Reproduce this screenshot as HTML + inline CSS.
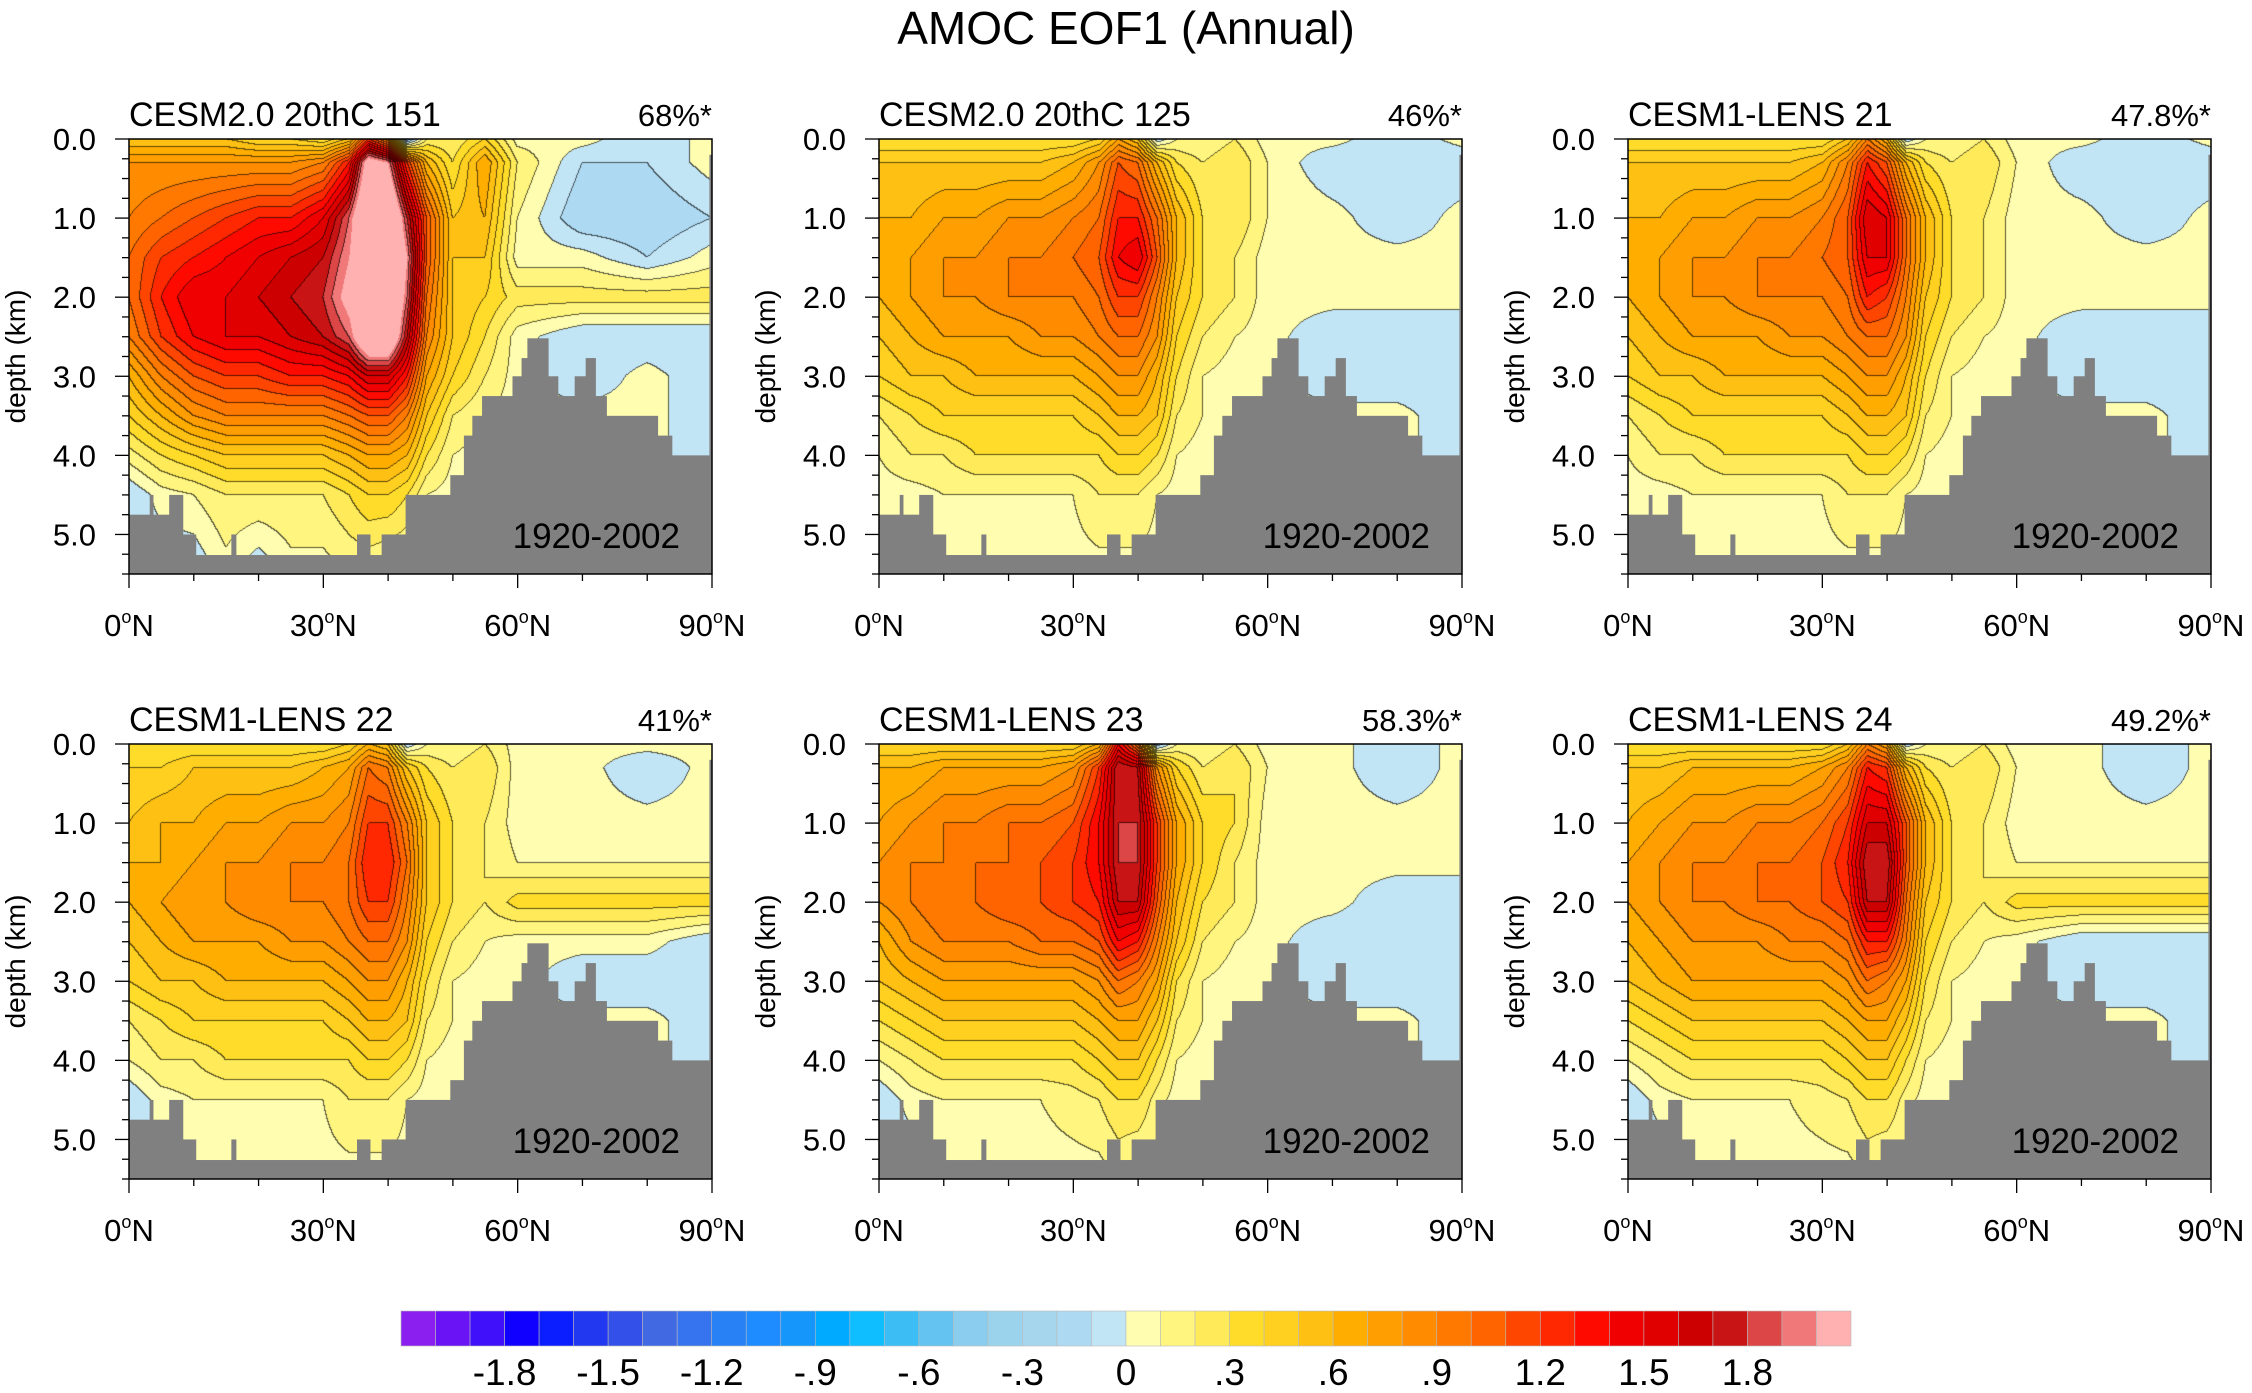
<!DOCTYPE html>
<html><head><meta charset="utf-8"><style>
html,body{margin:0;padding:0;background:#fff}
#wrap{position:relative;width:2252px;height:1393px;overflow:hidden;font-family:"Liberation Sans",sans-serif}
canvas{position:absolute}
svg{position:absolute;left:0;top:0}
</style></head><body>
<div id="wrap">
<svg id="ov" width="2252" height="1393"></svg>
</div>
<script>
const lats=[0,5,10,15,20,25,30,34,37,40,43,46,50,55,60,70,80,90];
const depths=[0,0.3,1,1.5,2,2.5,3,3.5,4,4.5,5.5];
const panelTitles=["CESM2.0 20thC 151","CESM2.0 20thC 125","CESM1-LENS 21","CESM1-LENS 22","CESM1-LENS 23","CESM1-LENS 24"];
const panelPcts=["68%*","46%*","47.8%*","41%*","58.3%*","49.2%*"];
const xTicks=[0,30,60,90];
const yTicks=[0,1,2,3,4,5];
const cbLabels=[-1.8,-1.5,-1.2,-0.9,-0.6,-0.3,0,0.3,0.6,0.9,1.2,1.5,1.8];
const bathyEdges=[0,3.2,3.7,6.2,8.3,10.3,15.8,16.5,35.2,37.2,39,42.7,49.6,51.7,53,54.5,59.2,60.6,61.5,64.7,66.2,68.8,70.5,72,73.7,81.6,83.8,89.6,90];
const bathyDepth=[4.75,4.5,4.75,4.5,5.0,5.26,5.0,5.26,5.0,5.26,5.0,4.5,4.25,3.75,3.5,3.25,3.0,2.77,2.52,3.0,3.25,3.0,2.77,3.25,3.5,3.75,4.0,0.2];
const colors=["#8B1FEF","#6A14F5","#4010FA","#1000FF","#0A1EFF","#2238F0","#3350E8","#4169E1","#3673EE","#2882F5","#1E8CFF","#1496FA","#00AAFF","#0FBEFF","#3CBEF5","#64C3F0","#8ACDEF","#9BD3EC","#A5D6EE","#ADDAF2","#C2E5F6",
"#FFFDB0","#FFF57F","#FFEB5A","#FFDC2A","#FFD020","#FFC014","#FFAE00","#FF9E00","#FF8C00","#FF7800","#FF6400","#FF4600","#FF2800","#FF0A00","#F00000","#E10000","#CC0000","#C81414","#DC4646","#F07878","#FFB0B0"];
const field1=[
[0.5,0.5,0.5,0.5,0.4,0.4,0.3,0.5,1.2,0.8,-0.3,0.2,0.2,0.4,0.05,0.05,-0.1,0.05],
[0.8,0.8,0.8,0.8,0.8,0.8,0.9,1.3,2.2,2.0,1.2,0.6,0.3,0.7,0.2,-0.1,-0.1,0.05],
[0.9,1.0,1.1,1.2,1.3,1.3,1.5,1.9,2.5,2.5,1.8,1.1,0.5,0.6,0.1,-0.2,-0.2,-0.1],
[1.0,1.2,1.3,1.4,1.5,1.6,1.7,2.0,2.5,2.5,2.0,1.1,0.5,0.5,0.05,0.05,-0.1,0.05],
[1.0,1.3,1.5,1.5,1.6,1.7,1.8,2.1,2.5,2.5,1.9,1.0,0.5,0.4,0.25,0.25,0.25,0.25],
[0.9,1.2,1.4,1.5,1.5,1.6,1.7,1.9,2.4,2.4,1.7,0.9,0.5,0.3,0.05,-0.1,-0.1,-0.1],
[0.6,0.9,1.1,1.2,1.2,1.3,1.3,1.4,1.6,1.6,1.3,0.7,0.4,0.2,0.05,-0.1,0.05,-0.1],
[0.4,0.6,0.8,0.9,0.9,0.9,0.9,1.0,1.1,1.1,0.9,0.5,0.2,0.1,0.05,0.05,0.05,-0.1],
[0.15,0.3,0.4,0.5,0.5,0.5,0.5,0.6,0.7,0.7,0.6,0.3,0.1,0.05,0.05,0.05,0.05,-0.1],
[-0.1,0.05,0.1,0.2,0.2,0.2,0.2,0.3,0.4,0.4,0.3,0.1,0.05,0.05,0.05,0.05,0.05,0.05],
[-0.1,-0.1,-0.1,0.05,-0.1,0.05,0.05,0.1,0.1,0.05,0.05,0.05,0.05,0.05,0.05,0.05,0.05,0.05]];
const field2=[
[0.3,0.3,0.3,0.3,0.3,0.3,0.3,0.4,0.7,0.5,-0.1,0.1,0.1,0.2,0.05,0.05,-0.1,0.05],
[0.5,0.5,0.5,0.5,0.5,0.5,0.6,0.8,1.1,1.0,0.6,0.3,0.2,0.3,0.1,-0.1,-0.1,-0.1],
[0.6,0.6,0.7,0.7,0.8,0.8,0.9,1.0,1.3,1.3,1.0,0.6,0.3,0.3,0.1,0.05,-0.1,0.05],
[0.6,0.7,0.8,0.8,0.9,0.9,1.0,1.1,1.4,1.5,1.1,0.6,0.3,0.2,0.05,0.05,0.05,0.05],
[0.6,0.7,0.8,0.8,0.9,0.9,0.9,1.0,1.2,1.2,0.9,0.5,0.3,0.2,0.05,0.05,0.05,0.05],
[0.5,0.6,0.7,0.7,0.7,0.8,0.8,0.9,1.0,1.0,0.8,0.4,0.2,0.1,0.05,-0.1,-0.1,-0.1],
[0.4,0.5,0.5,0.6,0.6,0.6,0.6,0.7,0.8,0.8,0.6,0.3,0.1,0.05,0.05,-0.1,-0.1,-0.1],
[0.2,0.3,0.4,0.4,0.4,0.4,0.4,0.5,0.6,0.6,0.5,0.2,0.1,0.05,0.05,0.05,0.05,-0.1],
[0.1,0.2,0.2,0.3,0.3,0.3,0.3,0.3,0.4,0.4,0.3,0.1,0.05,0.05,0.05,0.05,0.05,-0.1],
[0.05,0.05,0.1,0.1,0.1,0.1,0.1,0.2,0.2,0.2,0.1,0.05,0.05,0.05,0.05,0.05,0.05,0.05],
[-0.1,0.05,0.05,0.05,0.05,0.05,0.05,0.05,0.05,0.05,0.05,0.05,0.05,0.05,0.05,0.05,0.05,0.05]];
const field3=[
[0.3,0.3,0.3,0.3,0.3,0.3,0.3,0.5,0.9,0.6,-0.1,0.1,0.1,0.2,0.05,0.05,-0.1,0.05],
[0.5,0.5,0.5,0.5,0.5,0.5,0.6,0.9,1.3,1.1,0.6,0.3,0.2,0.3,0.1,-0.1,-0.1,-0.1],
[0.6,0.6,0.7,0.7,0.8,0.8,0.9,1.1,1.6,1.5,1.0,0.6,0.3,0.2,0.05,0.05,-0.1,0.05],
[0.6,0.7,0.8,0.8,0.9,0.9,1.0,1.1,1.5,1.5,1.0,0.6,0.3,0.2,0.05,0.05,0.05,0.05],
[0.6,0.7,0.8,0.8,0.9,0.9,0.9,1.0,1.3,1.2,0.9,0.5,0.3,0.2,0.05,0.05,0.05,0.05],
[0.5,0.6,0.7,0.7,0.7,0.8,0.8,0.9,1.0,1.0,0.8,0.4,0.2,0.1,0.05,-0.1,-0.1,-0.1],
[0.4,0.5,0.5,0.6,0.6,0.6,0.6,0.7,0.8,0.8,0.6,0.3,0.1,0.05,0.05,-0.1,-0.1,-0.1],
[0.2,0.3,0.4,0.4,0.4,0.4,0.4,0.5,0.6,0.6,0.5,0.2,0.1,0.05,0.05,0.05,0.05,-0.1],
[0.1,0.2,0.2,0.3,0.3,0.3,0.3,0.3,0.4,0.4,0.3,0.1,0.05,0.05,0.05,0.05,0.05,-0.1],
[0.05,0.05,0.1,0.1,0.1,0.1,0.1,0.2,0.2,0.2,0.1,0.05,0.05,0.05,0.05,0.05,0.05,0.05],
[-0.1,0.05,0.05,0.05,0.05,0.05,0.05,0.05,0.05,0.05,0.05,0.05,0.05,0.05,0.05,0.05,0.05,0.05]];
const field4=[
[0.3,0.3,0.3,0.3,0.3,0.3,0.3,0.4,0.6,0.5,-0.1,0.1,0.1,0.2,0.05,0.05,0.05,0.05],
[0.4,0.4,0.5,0.5,0.5,0.5,0.6,0.7,1.0,0.9,0.5,0.3,0.2,0.3,0.05,0.05,-0.1,0.05],
[0.5,0.6,0.6,0.7,0.7,0.8,0.8,0.9,1.2,1.2,0.9,0.5,0.3,0.2,0.05,0.05,0.05,0.05],
[0.6,0.6,0.7,0.8,0.8,0.9,0.9,1.0,1.3,1.3,1.0,0.5,0.3,0.2,0.1,0.1,0.1,0.1],
[0.6,0.7,0.8,0.8,0.9,0.9,0.9,1.0,1.2,1.2,0.9,0.5,0.3,0.2,0.35,0.35,0.35,0.35],
[0.5,0.6,0.7,0.7,0.7,0.8,0.8,0.9,1.0,1.0,0.8,0.4,0.2,0.1,0.05,0.05,0.05,-0.1],
[0.4,0.5,0.5,0.6,0.6,0.6,0.6,0.7,0.8,0.8,0.6,0.3,0.1,0.05,0.05,-0.1,-0.1,-0.1],
[0.2,0.3,0.4,0.4,0.4,0.4,0.4,0.5,0.6,0.6,0.5,0.2,0.1,0.05,0.05,0.05,0.05,-0.1],
[0.1,0.2,0.2,0.3,0.3,0.3,0.3,0.3,0.4,0.4,0.3,0.1,0.05,0.05,0.05,0.05,0.05,-0.1],
[-0.1,0.05,0.1,0.1,0.1,0.1,0.1,0.2,0.2,0.2,0.1,0.05,0.05,0.05,0.05,0.05,0.05,0.05],
[-0.1,0.05,0.05,0.05,0.05,0.05,0.05,0.05,0.05,0.05,0.05,0.05,0.05,0.05,0.05,0.05,0.05,0.05]];
const field5=[
[0.4,0.4,0.4,0.4,0.4,0.4,0.4,0.6,1.4,0.9,-0.2,0.1,0.1,0.2,0.05,0.05,-0.1,0.05],
[0.6,0.6,0.7,0.7,0.7,0.7,0.8,1.2,1.8,1.7,0.8,0.4,0.2,0.3,0.1,0.05,-0.1,0.05],
[0.7,0.8,0.9,0.9,1.0,1.0,1.1,1.4,1.8,1.8,1.2,0.7,0.4,0.3,0.05,0.05,0.05,0.05],
[0.8,0.9,0.9,1.0,1.0,1.1,1.2,1.4,1.8,1.8,1.2,0.7,0.4,0.2,0.05,0.05,0.05,0.05],
[0.8,0.9,1.0,1.0,1.1,1.1,1.2,1.3,1.7,1.7,1.1,0.6,0.3,0.2,0.05,0.05,-0.1,-0.1],
[0.6,0.8,0.9,0.9,0.9,1.0,1.0,1.1,1.4,1.3,0.9,0.5,0.2,0.1,0.05,-0.1,-0.1,-0.1],
[0.5,0.6,0.7,0.7,0.7,0.7,0.7,0.8,1.0,0.9,0.7,0.3,0.1,0.05,0.05,-0.1,-0.1,-0.1],
[0.3,0.4,0.5,0.5,0.5,0.5,0.5,0.6,0.7,0.7,0.5,0.2,0.1,0.05,0.05,0.05,0.05,-0.1],
[0.1,0.2,0.3,0.3,0.3,0.3,0.3,0.4,0.5,0.5,0.3,0.1,0.05,0.05,0.05,0.05,0.05,-0.1],
[-0.1,0.05,0.1,0.1,0.1,0.1,0.15,0.2,0.3,0.3,0.15,0.05,0.05,0.05,0.05,0.05,0.05,0.05],
[-0.1,-0.1,0.05,0.05,0.05,0.05,0.05,0.05,0.1,0.05,0.05,0.05,0.05,0.05,0.05,0.05,0.05,0.05]];
const field6=[
[0.3,0.3,0.3,0.3,0.3,0.3,0.3,0.5,0.9,0.7,-0.1,0.1,0.1,0.2,0.05,0.05,-0.1,0.05],
[0.5,0.5,0.6,0.6,0.6,0.6,0.7,0.9,1.3,1.2,0.6,0.3,0.2,0.3,0.1,0.05,-0.1,0.05],
[0.6,0.7,0.8,0.8,0.9,0.9,1.0,1.2,1.6,1.6,1.1,0.6,0.3,0.2,0.05,0.05,0.05,0.05],
[0.7,0.8,0.9,0.9,1.0,1.0,1.1,1.3,1.8,1.8,1.1,0.6,0.3,0.2,0.1,0.1,0.1,0.1],
[0.7,0.8,0.9,0.9,1.0,1.0,1.1,1.2,1.7,1.7,1.0,0.5,0.3,0.2,0.35,0.35,0.35,0.35],
[0.6,0.7,0.8,0.8,0.8,0.9,0.9,1.0,1.3,1.3,0.9,0.4,0.2,0.1,0.05,-0.1,-0.1,-0.1],
[0.5,0.6,0.7,0.7,0.7,0.7,0.7,0.8,1.0,0.9,0.7,0.3,0.1,0.05,0.05,-0.1,-0.1,-0.1],
[0.3,0.4,0.5,0.5,0.5,0.5,0.5,0.6,0.7,0.7,0.5,0.2,0.1,0.05,0.05,0.05,0.05,-0.1],
[0.1,0.2,0.3,0.3,0.3,0.3,0.3,0.4,0.5,0.5,0.3,0.1,0.05,0.05,0.05,0.05,0.05,-0.1],
[-0.1,0.05,0.1,0.1,0.1,0.1,0.15,0.2,0.3,0.3,0.15,0.05,0.05,0.05,0.05,0.05,0.05,0.05],
[-0.1,-0.1,0.05,0.05,0.05,0.05,0.05,0.05,0.1,0.05,0.05,0.05,0.05,0.05,0.05,0.05,0.05,0.05]];
const fields=[field1,field2,field3,field4,field5,field6];

const NS="http://www.w3.org/2000/svg";
const ov=document.getElementById('ov');
const wrap=document.getElementById('wrap');
const PW=583,PH=435,lefts=[129,879,1628],tops=[139,744];
function mk(tag,attrs,parent){const e=document.createElementNS(NS,tag);for(const k in attrs)e.setAttribute(k,attrs[k]);(parent||ov).appendChild(e);return e;}
function levIdx(v){if(v<-2.0)return 0;return Math.max(0,Math.min(41,Math.floor((v+2.0)/0.1+1e-9)+1));}
function hex(c){return [parseInt(c.slice(1,3),16),parseInt(c.slice(3,5),16),parseInt(c.slice(5,7),16)];}
const rgb=colors.map(hex);
function findSeg(arr,v){for(let i=0;i<arr.length-1;i++){if(v<=arr[i+1])return i;}return arr.length-2;}
function sample(F,lat,dep){const i=findSeg(lats,lat),j=findSeg(depths,dep);
 const tx=(lat-lats[i])/(lats[i+1]-lats[i]),ty=(dep-depths[j])/(depths[j+1]-depths[j]);
 const a=F[j][i],b=F[j][i+1],c=F[j+1][i],d=F[j+1][i+1];
 return a*(1-tx)*(1-ty)+b*tx*(1-ty)+c*(1-tx)*ty+d*tx*ty;}

const t=mk('text',{x:1126,y:44,'font-size':46,'text-anchor':'middle',fill:'#000'});
t.textContent='AMOC EOF1 (Annual)';



for(let p=0;p<6;p++){
 const L=lefts[p%3],T=tops[Math.floor(p/3)];
 const xs=lat=>L+lat/90*PW, ys=d=>T+d/5.5*PH;
 const cv=document.createElement('canvas');cv.width=PW;cv.height=PH;cv.style.left=L+'px';cv.style.top=T+'px';
 
 
 wrap.insertBefore(cv,ov);
 const ctx=cv.getContext('2d');const img=ctx.createImageData(PW,PH);const F=fields[p];
 const idx=new Int16Array(PW*PH);
 for(let y=0;y<PH;y++)for(let x=0;x<PW;x++){idx[y*PW+x]=levIdx(sample(F,(x+0.5)/PW*90,(y+0.5)/PH*5.5));}
 for(let y=0;y<PH;y++)for(let x=0;x<PW;x++){const k=y*PW+x,c=rgb[idx[k]];let r=c[0],g=c[1],b=c[2];
  const v=idx[k];let edge=false;
  if(x<PW-1&&idx[k+1]!==v&&Math.max(v,idx[k+1])<41)edge=true;
  if(y<PH-1&&idx[k+PW]!==v&&Math.max(v,idx[k+PW])<41)edge=true;
  if(edge){r=r*0.35;g=g*0.35;b=b*0.35;}
  img.data[k*4]=r;img.data[k*4+1]=g;img.data[k*4+2]=b;img.data[k*4+3]=255;}
 ctx.putImageData(img,0,0);
 const g=mk('g',{});
 
 
 for(let i=0;i<bathyDepth.length;i++){
  const r=mk('rect',{x:xs(bathyEdges[i]),y:ys(bathyDepth[i]),width:xs(bathyEdges[i+1])-xs(bathyEdges[i])+0.5,height:ys(5.5)-ys(bathyDepth[i]),fill:'#808080'},g);
  
  
 }
 const fr=mk('rect',{x:L,y:T,width:PW,height:PH,fill:'none',stroke:'#000','stroke-width':1.5},g);
 
 
 for(let d=0;d<=5.5001;d+=0.25){const maj=Math.abs(d-Math.round(d))<1e-6;mk('line',{x1:L,x2:L-(maj?14:7),y1:ys(d),y2:ys(d),stroke:'#000','stroke-width':1.3},g);}
 for(let la=0;la<=90;la+=10){const maj=la%30===0;mk('line',{x1:xs(la),x2:xs(la),y1:T+PH,y2:T+PH+(maj?14:7),stroke:'#000','stroke-width':1.3},g);}
 yTicks.forEach(d=>{const e=mk('text',{x:L-33,y:ys(d)+11,'font-size':31,'text-anchor':'end'},g);e.textContent=d.toFixed(1);
  
  });
 xTicks.forEach(la=>{const e=mk('text',{x:xs(la),y:T+PH+62,'font-size':31,'text-anchor':'middle'},g);
  e.appendChild(document.createTextNode(String(la)));
  const s=mk('tspan',{'font-size':18,dy:-13},e);s.textContent='o';
  const n=mk('tspan',{dy:13},e);n.textContent='N';
  
  });
 const yl=mk('text',{transform:`translate(${L-104},${T+PH/2}) rotate(-90)`,'font-size':28,'text-anchor':'middle'},g);yl.textContent='depth (km)';
 
 
 const pt=mk('text',{x:L,y:T-13,'font-size':34},g);pt.textContent=panelTitles[p];
 
 
 const pp=mk('text',{x:L+PW,y:T-13,'font-size':31,'text-anchor':'end'},g);pp.textContent=panelPcts[p];
 
 
 const yr=mk('text',{x:L+PW-32,y:T+409,'font-size':35,'text-anchor':'end'},g);yr.textContent='1920-2002';
 
 
}
const CB0=401,CB1=1851,CBY=1311,CBH=35,bw=(CB1-CB0)/42;
const cg=mk('g',{});


colors.forEach((c,i)=>{const r=mk('rect',{x:CB0+i*bw,y:CBY,width:bw,height:CBH,fill:c,stroke:'#bbb','stroke-width':0.6},cg);
 
 });
cbLabels.forEach(v=>{const x=CB0+(v+2.1)/0.1*bw;const e=mk('text',{x:x,y:1385,'font-size':37,'text-anchor':'middle'},cg);
 let s=Math.abs(v)<1e-9?'0':(Math.abs(v)<1?(v<0?'-':'')+'.'+Math.round(Math.abs(v)*10):v.toFixed(1));e.textContent=s;
 
 });
</script>
</body></html>
